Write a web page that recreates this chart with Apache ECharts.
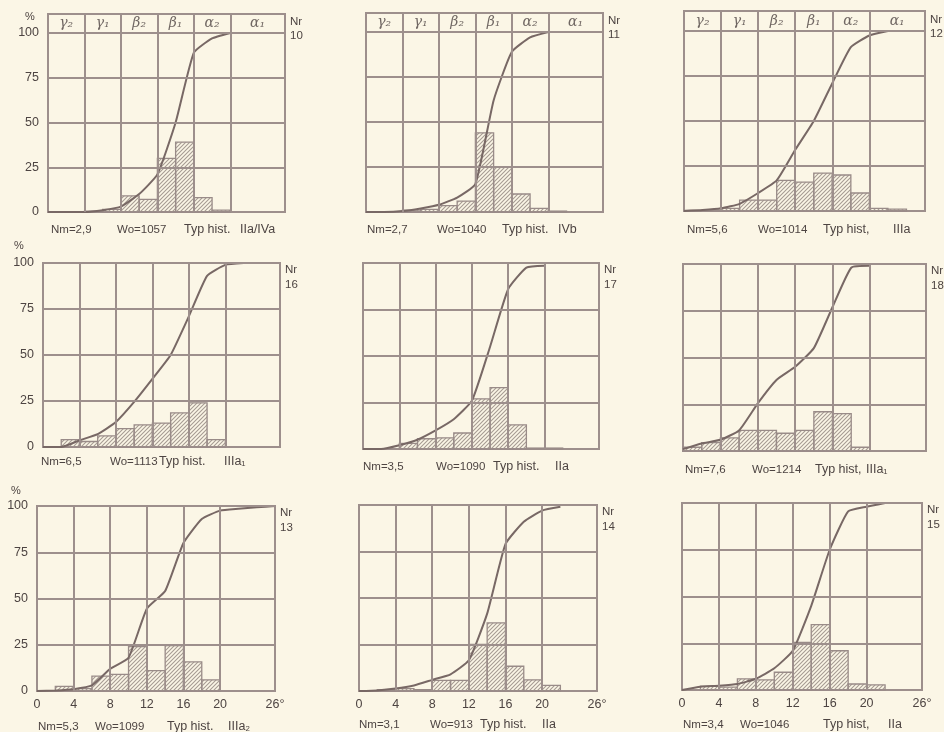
<!DOCTYPE html>
<html>
<head>
<meta charset="utf-8">
<script src="https://cdn.jsdelivr.net/npm/echarts@6/dist/echarts.min.js"></script>
<style>
html,body{margin:0;padding:0;background:#fbf6e6;}
#chart{width:944px;height:732px;}
</style>
</head>
<body>
<div id="chart"></div>
<script>
// ---------- DATA ----------
const binStarts = [0,2,4,6,8,10,12,14,16,18,20,22,24]; // histogram classes, 2° wide
const binWidth = 2;
const curveDeg = [0,2,4,6,8,10,12,14,16,18,20,22,24,26];
const gridDeg = [0,4,8,12,16,20,26];            // x tick labels (degrees)
const yTicks = [0,25,50,75,100];                 // y tick labels (%)
const headerLabels = ['γ₂','γ₁','β₂','β₁','α₂','α₁'];

const hist10 = [0,0,0.5,1.5,9,7,30,39,8,1,0,0,0];
const curve10 = [0,0,0,1,3,10,21,50,89,97,100,null,null,null];
const hist11 = [0,0,1,1.5,3.5,6,44,25,10,2,0.5,0,0];
const curve11 = [0,0,0.5,2,4,8,15.5,62,89,97,100,null,null,null];
const hist12 = [0.3,0.5,1.5,6,6,17,16,21,20,10,1.5,1,0];
const curve12 = [0,0.5,1.5,4,10,17,34,50,71,91,97.5,100,null,null];
const hist16 = [0,4,3,6,10,12,13,18.5,24,4,0,0,0];
const curve16 = [0,0,3.6,7,13.6,24.5,37,50,71,93,99,100,null,null];
const hist17 = [0,0,3,5.5,6,8.6,27,33,13,0.5,0.5,0,0];
const curve17 = [0,0,2,5,10,16,26,55,86,97.5,98.5,null,null,null];
const hist18 = [2,4.5,7,11,11,9.5,11,21,20,2,0,0,0];
const curve18 = [1,4,6,11,25.5,38,45,55,77,98,99,null,null,null];
const hist13 = [0,2.5,1.3,8,9,24,11,24.5,15.7,6,0,0,0];
const curve13 = [0,0.3,1,3,12,18,44.5,54,80,93,97.5,98.5,99.3,100];
const hist14 = [0,0.7,1.3,0.7,5.7,5.7,25,36.6,13.3,6,3,0,0];
const curve14 = [0,0.3,1.3,3,6,9,16.5,41.6,79,91,97,99,null,null];
const hist15 = [0,2,1.5,6,5.4,9.5,25.4,35,21,3.2,2.7,0,0];
const curve15 = [0,1.8,2.3,3.2,6,11.6,21,45,75,95.5,98,100,null,null];

const panelNr   = ['10','11','12','16','17','18','13','14','15'];
const panelNm   = ['2,9','2,7','5,6','6,5','3,5','7,6','5,3','3,1','3,4'];
const panelWo   = ['1057','1040','1014','1113','1090','1214','1099','913','1046'];
const panelHistLabel = ['Typ hist.','Typ hist.','Typ hist,','Typ hist.','Typ hist.','Typ hist,','Typ hist.','Typ hist.','Typ hist,'];
const panelTyp  = ['IIa/IVa','IVb','IIIa','IIIa₁','IIa','IIIa₁','IIIa₂','IIa','IIa'];
const panelHist  = [hist10,hist11,hist12,hist16,hist17,hist18,hist13,hist14,hist15];
const panelCurve = [curve10,curve11,curve12,curve16,curve17,curve18,curve13,curve14,curve15];

// ---------- LAYOUT (pixels) ----------
const layout = [
  {l:48, r:285, t100:33, b:212, head:14, row:0, col:0, nm:51,  wo:117, typ:184, typ2:240, ty:230},
  {l:366,r:603, t100:32, b:212, head:13, row:0, col:1, nm:367, wo:437, typ:502, typ2:558, ty:230},
  {l:684,r:925, t100:31, b:211, head:11, row:0, col:2, nm:687, wo:758, typ:823, typ2:893, ty:230},
  {l:43, r:280, t100:263,b:447, head:263,row:1, col:0, nm:41,  wo:110, typ:159, typ2:224, ty:462},
  {l:363,r:599, t100:263,b:449, head:263,row:1, col:1, nm:363, wo:436, typ:493, typ2:555, ty:467},
  {l:683,r:926, t100:264,b:451, head:264,row:1, col:2, nm:685, wo:752, typ:815, typ2:866, ty:470},
  {l:37, r:275, t100:506,b:691, head:506,row:2, col:0, nm:38,  wo:95,  typ:167, typ2:228, ty:727},
  {l:359,r:597, t100:505,b:691, head:505,row:2, col:1, nm:359, wo:430, typ:480, typ2:542, ty:725},
  {l:682,r:922, t100:503,b:690, head:503,row:2, col:2, nm:683, wo:740, typ:823, typ2:888, ty:725}
];
const pctPos = [[30,17],[19,246],[16,491]];

// ---------- STYLE ----------
const FONT = 'Liberation Sans';
const textColor = '#4d4442';
const gridColor = '#9d8f8c';
const curveColor = '#786865';

function makeHatch(){
  const c = document.createElement('canvas');
  c.width = 4; c.height = 4;
  const g = c.getContext('2d');
  g.strokeStyle = '#a69b93';
  g.lineWidth = 1.1;
  g.beginPath();
  g.moveTo(0,4); g.lineTo(4,0);
  g.moveTo(-1,1); g.lineTo(1,-1);
  g.moveTo(3,5); g.lineTo(5,3);
  g.stroke();
  return c;
}
const hatch = makeHatch();

const grids = [], xAxes = [], yAxes = [], series = [], graphics = [];

layout.forEach((L, i) => {
  const yMax = 100 * (L.b - L.head) / (L.b - L.t100);
  grids.push({left:L.l, top:L.head, width:L.r - L.l, height:L.b - L.head,
    show:true, borderColor:gridColor, borderWidth:2, backgroundColor:'transparent'});
  xAxes.push({gridIndex:i, type:'value', min:0, max:26,
    axisLine:{show:false}, splitLine:{show:false},
    axisTick:{show:false},
    axisLabel:{show:L.row === 2, customValues:gridDeg, margin:7,
      formatter:v => v === 26 ? '26°' : String(v),
      color:textColor, fontFamily:FONT, fontSize:12.5}});
  yAxes.push({gridIndex:i, type:'value', min:0, max:yMax,
    axisLine:{show:false}, splitLine:{show:false}, axisTick:{show:false},
    axisLabel:{show:L.col === 0, customValues:yTicks, margin:9,
      color:textColor, fontFamily:FONT, fontSize:12.5}});

  const hist = panelHist[i];
  const barData = [];
  binStarts.forEach((s, k) => { if (hist[k] > 0) barData.push([s, s + binWidth, hist[k]]); });
  series.push({type:'custom', xAxisIndex:i, yAxisIndex:i, z:2, silent:true,
    encode:{x:[0,1], y:2}, data:barData,
    renderItem:(params, api) => {
      const p0 = api.coord([api.value(0), 0]);
      const p1 = api.coord([api.value(1), api.value(2)]);
      return {type:'rect',
        shape:{x:p0[0], y:p1[1], width:p1[0]-p0[0], height:p0[1]-p1[1]},
        style:{fill:{image:hatch, repeat:'repeat'}, stroke:'#998b88', lineWidth:1.3}};
    }});

  // grid lines
  const ml = [];
  gridDeg.slice(1, -1).forEach(v => ml.push({xAxis:v}));
  yTicks.slice(1).forEach(v => ml.push({yAxis:v}));
  series.push({type:'line', xAxisIndex:i, yAxisIndex:i, z:3, silent:true,
    data:[[0,0]], showSymbol:false, symbol:'none', lineStyle:{opacity:0},
    markLine:{silent:true, symbol:['none','none'], label:{show:false},
      lineStyle:{color:gridColor, width:2, type:'solid'}, data:ml}});

  // cumulative curve
  const curve = panelCurve[i];
  series.push({type:'line', xAxisIndex:i, yAxisIndex:i, z:4, silent:true,
    data:curveDeg.map((d, k) => [d, curve[k]]),
    symbol:'none', smooth:0.15, connectNulls:false,
    lineStyle:{color:curveColor, width:2}});

  // header (top row)
  if (L.row === 0) {
    const mids = headerLabels.map((t, k) => [(gridDeg[k] + gridDeg[k+1]) / 2, (100 + yMax) / 2, t]);
    series.push({type:'scatter', xAxisIndex:i, yAxisIndex:i, z:5, silent:true,
      symbolSize:1, itemStyle:{color:'transparent'}, data:mids,
      label:{show:true, position:'inside', formatter:p => p.data[2],
        fontFamily:'DejaVu Serif', fontStyle:'italic', fontSize:14, color:textColor}});
  }

  // texts
  const txt = (x, y, s, align, size) => graphics.push({type:'text', x:x, y:y, silent:true,
    style:{text:s, fill:textColor, font:size + 'px "' + FONT + '"', textAlign:align||'left', textVerticalAlign:'middle'}});
  const nrY = L.row === 0 ? L.t100 - 11 : L.t100 + 7;
  const numY = L.row === 0 ? L.t100 + 3 : L.t100 + 22;
  txt(L.r + 5, nrY, 'Nr', 'left', 11.5);
  txt(L.r + 5, numY, panelNr[i], 'left', 11.5);
  txt(L.nm, L.ty, 'Nm=' + panelNm[i], 'left', 11.5);
  txt(L.wo, L.ty, 'Wo=' + panelWo[i], 'left', 11.5);
  txt(L.typ, L.ty, panelHistLabel[i], 'left', 12.5);
  txt(L.typ2, L.ty, panelTyp[i], 'left', 12.5);
});
pctPos.forEach(p => graphics.push({type:'text', x:p[0], y:p[1], silent:true,
  style:{text:'%', fill:textColor, font:'11px "' + FONT + '"', textAlign:'center', textVerticalAlign:'middle'}}));

const chart = echarts.init(document.getElementById('chart'), null, {renderer:'canvas'});
chart.setOption({
  backgroundColor:'#fbf6e6',
  animation:false,
  grid:grids, xAxis:xAxes, yAxis:yAxes, series:series, graphic:graphics
});
</script>
</body>
</html>
